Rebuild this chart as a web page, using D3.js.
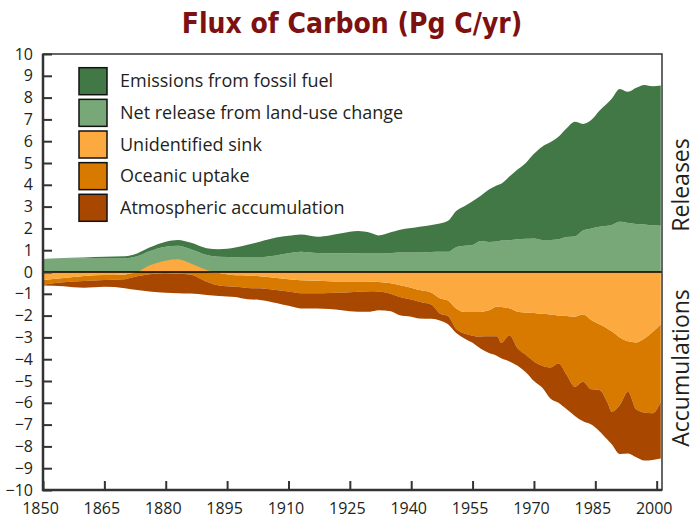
<!DOCTYPE html>
<head>
<meta charset="utf-8">
<style>
body, html {
  margin: 0;
  background: #fff;
}
.tick text {
  font-family: "Open Sans", sans-serif;
  font-size: 16px;
  fill: #231f20;
}
.tick line {
  stroke: #333;
  stroke-width: 2;
}
.legend text {
  font-family: "Open Sans", sans-serif;
  font-size: 18px;
  fill: #231f20;
}
.side {
  font-family: "Open Sans", sans-serif;
  font-size: 23px;
  fill: #231f20;
}
.title {
  font-family: "Liberation Sans Narrow", "DejaVu Sans Condensed", sans-serif;
  font-weight: bold;
  font-size: 28px;
  fill: #7d1010;
}
</style>
<script src="https://d3js.org/d3.v7.min.js"></script>
</head>

<body>
<div id="chart"></div>

<script>

// years
var years = [1850, 1855, 1860, 1865, 1870, 1873, 1876, 1880, 1883, 1886,
  1890, 1893, 1897, 1900, 1903, 1907, 1910, 1913, 1917, 1920,
  1923, 1927, 1930, 1932, 1935, 1937, 1940, 1942, 1945, 1947,
  1949, 1951, 1953, 1955, 1957, 1959, 1961, 1962, 1964, 1966,
  1968, 1970, 1972, 1974, 1976, 1978, 1980, 1982, 1984, 1986,
  1988, 1989, 1991, 1993, 1995, 1997, 1999, 2001];

// releases (Pg C/yr)
var fossil = [.02, .02, .04, .06, .09, .13, .17, .23, .27, .30,
  .31, .34, .44, .56, .70, .82, .80, .79, .75, .82,
  .92, 1.03, .95, .83, .96, 1.04, 1.12, 1.18, 1.24, 1.30,
  1.42, 1.66, 1.82, 2.01, 2.08, 2.40, 2.58, 2.61, 2.92, 3.20,
  3.48, 3.88, 4.28, 4.48, 4.70, 4.99, 5.26, 4.89, 4.97, 5.32,
  5.63, 5.79, 6.10, 6.02, 6.25, 6.40, 6.38, 6.43];
var landUse = [.58, .62, .63, .64, .63, .72, .95, 1.16, 1.20, 1.05,
  .78, .70, .68, .69, .69, .76, .86, .93, .87, .86,
  .86, .85, .85, .85, .86, .89, .90, .90, .92, .93,
  .93, 1.14, 1.20, 1.24, 1.42, 1.38, 1.40, 1.44, 1.46, 1.50,
  1.52, 1.54, 1.47, 1.47, 1.50, 1.60, 1.63, 1.90, 2.00, 2.08,
  2.12, 2.16, 2.30, 2.25, 2.20, 2.18, 2.14, 2.12];

// accumulations (negative = drawn below zero)
var sink = [-.37, -.28, -.18, -.14, -.11, 0, .30, .52, .58, .40,
  .09, -.05, -.15, -.16, -.20, -.28, -.33, -.38, -.40, -.42,
  -.44, -.44, -.45, -.46, -.52, -.60, -.72, -.83, -.95, -1.20,
  -1.31, -1.68, -1.84, -1.84, -1.83, -1.76, -1.58, -1.60, -1.66, -1.82,
  -1.86, -1.88, -1.92, -1.95, -2.00, -2.02, -2.05, -1.95, -2.20, -2.40,
  -2.60, -2.72, -3.00, -3.18, -3.23, -3.05, -2.75, -2.40];
var ocean = [.21, .19, .23, .23, .22, .20, .10, .06, .08, .12,
  .45, .57, .53, .57, .55, .54, .57, .60, .58, .54,
  .51, .47, .43, .44, .48, .53, .54, .53, .55, .70,
  .71, .94, .98, 1.08, 1.13, 1.19, 1.37, 1.65, 1.24, 1.68,
  1.94, 2.22, 2.38, 2.43, 2.20, 2.70, 3.21, 3.08, 3.18, 3.01,
  3.40, 3.69, 3.10, 2.31, 3.07, 3.40, 3.73, 3.55];
var atmos = [.04, .18, .31, .31, .41, .63, .80, .89, .89, .87,
  .60, .48, .47, .52, .53, .60, .65, .69, .70, .74,
  .80, .91, .94, .86, .80, .84, .79, .77, .65, .32,
  .38, .18, .23, .33, .56, .77, .90, .71, 1.20, .80,
  .80, .90, 1.00, 1.42, 1.80, 1.58, 1.34, 1.82, 1.62, 1.89,
  1.70, 1.49, 2.25, 2.83, 2.20, 2.20, 2.14, 2.60];

var yTicks = d3.range(-10, 11);
var xTicks = [1850, 1865, 1880, 1895, 1910, 1925, 1940, 1955, 1970, 1985, 2000];

var legendItems = [
  {name: "Emissions from fossil fuel", color: "#417846"},
  {name: "Net release from land-use change", color: "#78a878"},
  {name: "Unidentified sink", color: "#fcaa40"},
  {name: "Oceanic uptake", color: "#d87a00"},
  {name: "Atmospheric accumulation", color: "#a84800"}
];

//==========================================
var width = 696,
    height = 523,
    plotL = 43, plotR = 662, plotT = 54, plotB = 490;

var x = d3.scaleLinear().domain([1850, 2001.3]).range([plotL, plotR]);
var y = d3.scaleLinear().domain([-10, 10]).range([plotB, plotT]);

// stacked boundaries per year
var rows = years.map(function(yr, i) {
  var s0 = Math.min(sink[i], 0);
  return {
    year: yr,
    land: [0, landUse[i]],
    fossil: [landUse[i], landUse[i] + fossil[i]],
    sink: [0, sink[i]],
    ocean: [s0, s0 - ocean[i]],
    atmos: [s0 - ocean[i], s0 - ocean[i] - atmos[i]]
  };
});

var svg = d3.select('#chart').append('svg')
  .attr('width', width)
  .attr('height', height);

function band(key) {
  return d3.area()
    .curve(d3.curveMonotoneX)
    .x(function(d) { return x(d.year); })
    .y0(function(d) { return y(d[key][0]); })
    .y1(function(d) { return y(d[key][1]); });
}

var plot = svg.append('g');
plot.append('path').datum(rows).attr('fill', legendItems[1].color).attr('d', band('land'));
plot.append('path').datum(rows).attr('fill', legendItems[0].color).attr('d', band('fossil'));
plot.append('path').datum(rows).attr('fill', legendItems[3].color).attr('d', band('ocean'));
plot.append('path').datum(rows).attr('fill', legendItems[4].color).attr('d', band('atmos'));
plot.append('path').datum(rows).attr('fill', legendItems[2].color).attr('d', band('sink'));

// zero line
svg.append('line')
  .attr('x1', plotL).attr('x2', plotR)
  .attr('y1', y(0)).attr('y2', y(0))
  .attr('stroke', '#000').attr('stroke-width', 1.5);

// axes, ticks inside the frame
var yAxis = svg.append('g')
  .attr('transform', 'translate(' + plotL + ',0)')
  .call(d3.axisLeft(y).tickValues(yTicks).tickSize(-9).tickPadding(10).tickFormat(d3.format('d')));
var xAxis = svg.append('g')
  .attr('transform', 'translate(0,' + plotB + ')')
  .call(d3.axisBottom(x).tickValues(xTicks).tickSize(-9).tickPadding(13).tickFormat(d3.format('d')));
yAxis.select('.domain').remove();
xAxis.select('.domain').remove();
xAxis.selectAll('.tick text').attr('dx', -3);

// frame
svg.append('rect')
  .attr('x', plotL).attr('y', plotT)
  .attr('width', plotR - plotL).attr('height', plotB - plotT)
  .attr('fill', 'none').attr('stroke', '#333').attr('stroke-width', 1.5);
svg.append('path')
  .attr('d', 'M' + plotL + ',' + plotT + 'V' + plotB + 'H' + plotR)
  .attr('fill', 'none').attr('stroke', '#333').attr('stroke-width', 2.5);

// legend
var legend = svg.append('g').attr('class', 'legend');
var item = legend.selectAll('g').data(legendItems).enter().append('g')
  .attr('transform', function(d, i) { return 'translate(79,' + (67.7 + i * 31.65) + ')'; });
item.append('rect')
  .attr('width', 28).attr('height', 27)
  .attr('fill', function(d) { return d.color; })
  .attr('stroke', '#111').attr('stroke-width', 1.5);
item.append('text')
  .attr('x', 41).attr('y', 13.5).attr('dy', '0.35em')
  .text(function(d) { return d.name; });

// side labels
svg.append('text').attr('class', 'side')
  .attr('transform', 'translate(689,185) rotate(-90)')
  .attr('text-anchor', 'middle')
  .text('Releases');
svg.append('text').attr('class', 'side')
  .attr('transform', 'translate(689,368) rotate(-90)')
  .attr('text-anchor', 'middle')
  .text('Accumulations');

// title
svg.append('text').attr('class', 'title')
  .attr('x', 352).attr('y', 33)
  .attr('text-anchor', 'middle')
  .text('Flux of Carbon (Pg C/yr)');

</script>
